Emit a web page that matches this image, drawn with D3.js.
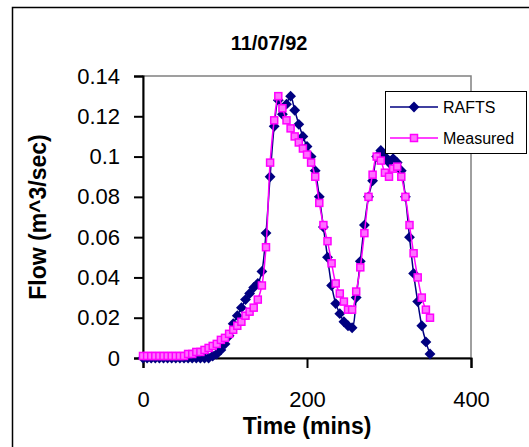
<!DOCTYPE html>
<html>
<head>
<meta charset="utf-8">
<script src="https://cdn.jsdelivr.net/npm/d3@7"></script>
<style>
  body { margin: 0; background: #fff; }
  svg { display: block; font-family: Arial, "Liberation Sans", sans-serif; }
</style>
</head>
<body>
<div id="chart"></div>
<script>
const times = [0, 5, 10, 15, 20, 25, 30, 35, 40, 45, 50, 55, 60, 65, 70, 75, 80, 85, 90, 95,
  100, 105, 110, 115, 120, 125, 130, 135, 140, 145, 150, 155, 160, 165, 170, 175, 180, 185, 190, 195,
  200, 205, 210, 215, 220, 225, 230, 235, 240, 245, 250, 255, 260, 265, 270, 275, 280, 285, 290, 295,
  300, 305, 310, 315, 320, 325, 330, 335, 340, 345, 350];

const rafts = [0, 0, 0, 0, 0, 0, 0, 0, 0, 0, 0, 0, 0, 0, 0, 0, 0, 0.001, 0.002, 0.004,
  0.007, 0.011, 0.017, 0.021, 0.025, 0.029, 0.032, 0.035, 0.037, 0.043, 0.062, 0.09, 0.115, 0.128, 0.121, 0.126, 0.13, 0.123, 0.116, 0.11,
  0.105, 0.1, 0.093, 0.08, 0.065, 0.05, 0.036, 0.027, 0.022, 0.018, 0.016, 0.015, 0.03, 0.048, 0.066, 0.08, 0.088, 0.1, 0.103, 0.1,
  0.097, 0.099, 0.097, 0.093, 0.08, 0.06, 0.042, 0.028, 0.016, 0.008, 0.002];

const measured = [0.001, 0.001, 0.001, 0.001, 0.001, 0.001, 0.001, 0.001, 0.001, 0.001, 0.001, 0.002, 0.002, 0.003, 0.003, 0.004, 0.005, 0.006, 0.007, 0.009,
  0.01, 0.012, 0.014, 0.016, 0.018, 0.021, 0.023, 0.025, 0.029, 0.036, 0.055, 0.097, 0.118, 0.13, 0.124, 0.118, 0.114, 0.11, 0.107, 0.104,
  0.101, 0.097, 0.09, 0.077, 0.066, 0.058, 0.047, 0.037, 0.032, 0.028, 0.024, 0.024, 0.033, 0.045, 0.062, 0.08, 0.091, 0.1, 0.098, 0.092,
  0.09, 0.094, 0.095, 0.09, 0.08, 0.066, 0.052, 0.04, 0.03, 0.024, 0.02];

const xTicks = [0, 200, 400];
const yTicks = [0, 0.02, 0.04, 0.06, 0.08, 0.1, 0.12, 0.14];
const seriesNames = ['RAFTS', 'Measured'];

const W = 529, H = 447;
const plot = { left: 143, right: 471, top: 76, bottom: 358 };

const svg = d3.select('#chart').append('svg')
  .attr('width', W)
  .attr('height', H);

svg.append('rect').attr('width', W).attr('height', H).attr('fill', '#fff');

// outer chart border (runs off the right and bottom edges)
svg.append('rect')
  .attr('x', 12.5).attr('y', 7.5)
  .attr('width', 530).attr('height', 460)
  .attr('fill', 'none').attr('stroke', '#000').attr('stroke-width', 1.5);

const x = d3.scaleLinear().domain([0, 400]).range([plot.left, plot.right]);
const y = d3.scaleLinear().domain([0, 0.14]).range([plot.bottom, plot.top]);

// plot frame
svg.append('rect')
  .attr('x', plot.left).attr('y', plot.top)
  .attr('width', plot.right - plot.left).attr('height', plot.bottom - plot.top)
  .attr('fill', 'none').attr('stroke', '#808080').attr('stroke-width', 1.5);

const yAxis = svg.append('g')
  .attr('transform', `translate(${plot.left},0)`)
  .call(d3.axisLeft(y).tickValues(yTicks).tickSize(9).tickPadding(14)
    .tickFormat(d => String(+d.toFixed(2))));

const xAxis = svg.append('g')
  .attr('transform', `translate(0,${plot.bottom})`)
  .call(d3.axisBottom(x).tickValues(xTicks).tickSize(10).tickPadding(23));

[yAxis, xAxis].forEach(g => {
  g.select('.domain').attr('stroke', '#000').attr('stroke-width', 2);
  g.selectAll('.tick line').attr('stroke', '#000').attr('stroke-width', 2);
  g.selectAll('.tick text').attr('fill', '#000')
    .style('font-size', '22px').style('font-family', 'Arial, "Liberation Sans", sans-serif');
});

// title
svg.append('text')
  .attr('x', 269).attr('y', 50)
  .attr('text-anchor', 'middle')
  .style('font-size', '20px').style('font-weight', 'bold')
  .text('11/07/92');

// axis labels
svg.append('text')
  .attr('x', 307).attr('y', 434)
  .attr('text-anchor', 'middle')
  .style('font-size', '23px').style('font-weight', 'bold')
  .text('Time (mins)');

svg.append('text')
  .attr('transform', `translate(46,${(plot.top + plot.bottom) / 2}) rotate(-90)`)
  .attr('text-anchor', 'middle')
  .style('font-size', '23px').style('font-weight', 'bold')
  .text('Flow (m^3/sec)');

const line = d3.line()
  .x((d, i) => x(times[i]))
  .y(d => y(d))
  .curve(d3.curveCatmullRom.alpha(0.5));

const navy = '#000080', pink = '#ff00ff', pinkFill = '#ff70ff';
const diamond = d3.symbol().type(d3.symbolDiamond2).size(75);

// RAFTS
svg.append('path').datum(rafts)
  .attr('d', line)
  .attr('fill', 'none').attr('stroke', navy).attr('stroke-width', 1.5);

svg.append('g').selectAll('path')
  .data(rafts)
  .enter()
  .append('path')
  .attr('d', diamond)
  .attr('transform', (d, i) => `translate(${x(times[i])},${y(d)})`)
  .attr('fill', navy);

// Measured
svg.append('path').datum(measured)
  .attr('d', line)
  .attr('fill', 'none').attr('stroke', pink).attr('stroke-width', 1.5);

svg.append('g').selectAll('rect')
  .data(measured)
  .enter()
  .append('rect')
  .attr('x', (d, i) => x(times[i]) - 3.5)
  .attr('y', d => y(d) - 3.5)
  .attr('width', 7).attr('height', 7)
  .attr('fill', pinkFill)
  .attr('stroke', pink).attr('stroke-width', 1.5);

// legend
const legend = svg.append('g').attr('transform', 'translate(385,91)');
legend.append('rect')
  .attr('x', 0.5).attr('y', 0.5).attr('width', 141).attr('height', 62)
  .attr('fill', '#fff').attr('stroke', '#000').attr('stroke-width', 1);

seriesNames.forEach((name, i) => {
  const ly = 16 + i * 31;
  const col = i === 0 ? navy : pink;
  legend.append('line')
    .attr('x1', 5).attr('x2', 53).attr('y1', ly).attr('y2', ly)
    .attr('stroke', col).attr('stroke-width', 1.5);
  if (i === 0) {
    legend.append('path').attr('d', diamond)
      .attr('transform', `translate(29,${ly})`).attr('fill', navy);
  } else {
    legend.append('rect')
      .attr('x', 25.5).attr('y', ly - 3.5).attr('width', 7).attr('height', 7)
      .attr('fill', pinkFill).attr('stroke', pink).attr('stroke-width', 1.5);
  }
  legend.append('text')
    .attr('x', 58).attr('y', ly + 6)
    .style('font-size', '16px')
    .text(name);
});
</script>
</body>
</html>
